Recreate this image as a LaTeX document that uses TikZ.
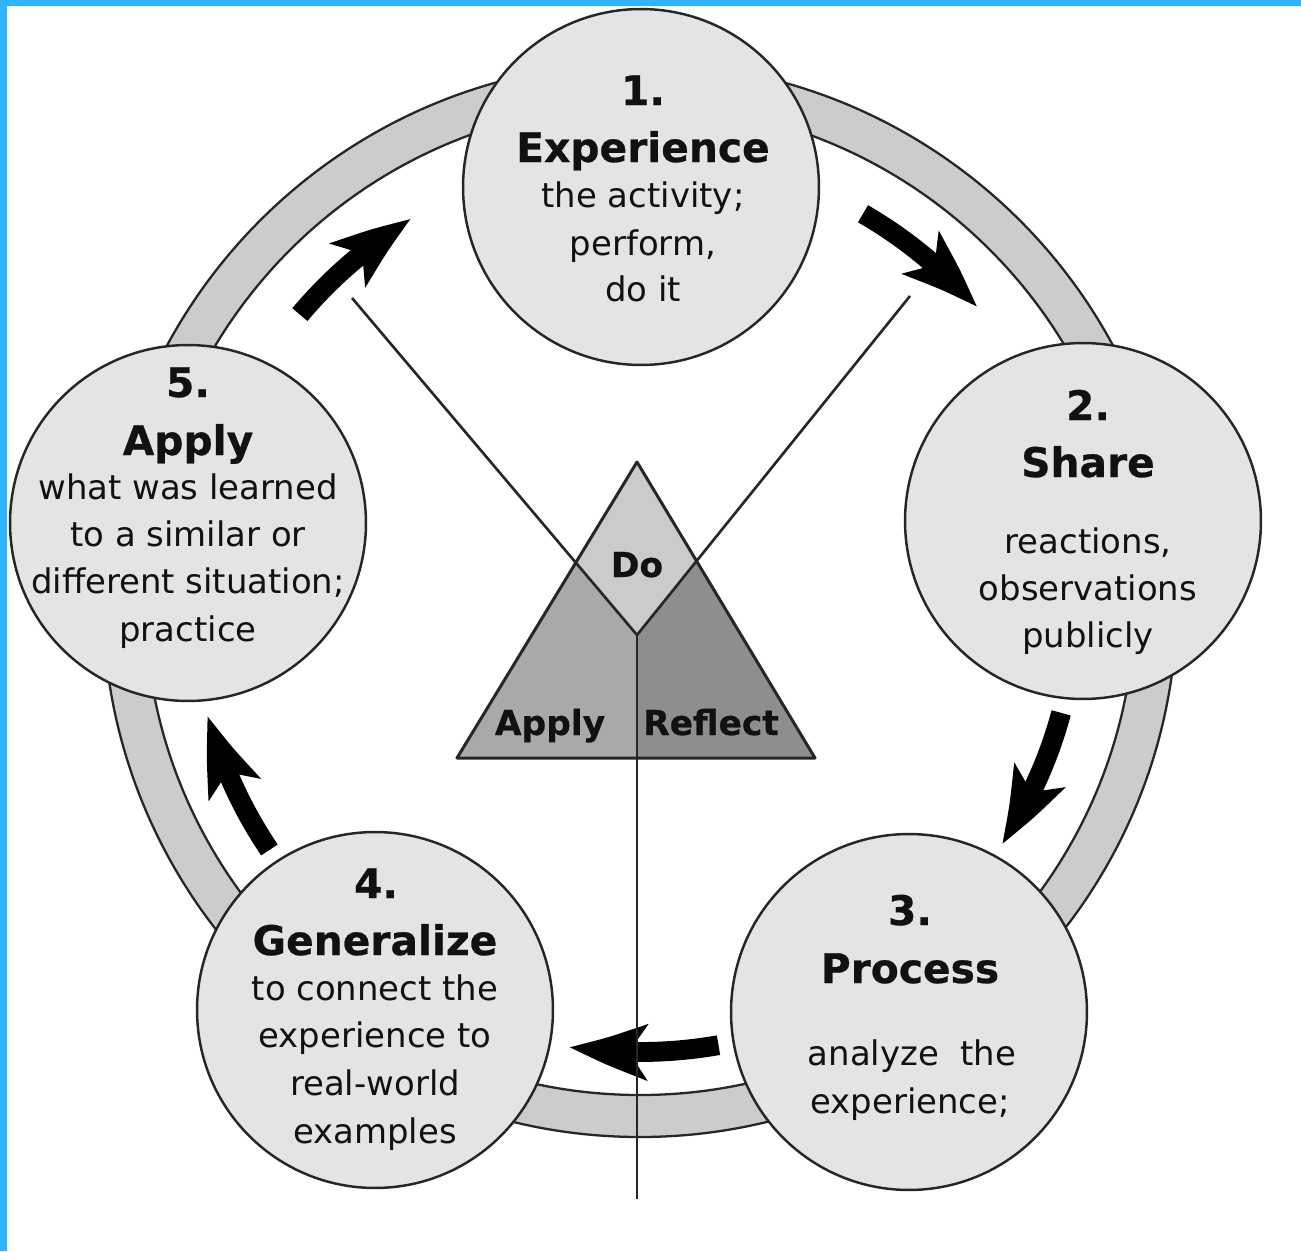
\documentclass[tikz,border=0pt]{standalone}
\usepackage{fontspec}
\setmainfont{DejaVu Sans}[BoldFeatures={FakeBold=0.6}]
\usetikzlibrary{arrows.meta,bending}
\definecolor{bluebar}{HTML}{30B4FF}
\definecolor{ringgray}{HTML}{CCCCCC}
\definecolor{circgray}{HTML}{E4E4E4}
\definecolor{dogray}{HTML}{CBCBCB}
\definecolor{applygray}{HTML}{A9A9A9}
\definecolor{reflgray}{HTML}{8E8E8E}
\definecolor{txt}{HTML}{111111}
\begin{document}
\begin{tikzpicture}[x=0.02cm,y=0.02cm,
  stage/.style={circle, draw=black!85, line width=1.4pt, fill=circgray, minimum size=7.12cm, inner sep=0pt},
  num/.style={font=\fontsize{23.2}{28}\selectfont\bfseries, anchor=base, inner sep=0pt, text=txt},
  body/.style={font=\fontsize{19.3}{24}\selectfont, anchor=base, inner sep=0pt, text=txt},
  trilab/.style={font=\fontsize{19.6}{24}\selectfont\bfseries, anchor=base, inner sep=0pt, text=txt},
  cyc/.style={line width=11.3pt, -{Stealth[length=44pt,width=31pt,inset=10pt,bend]}},
  yline/.style={line width=1.5pt, draw=black!85},
  ringline/.style={line width=1.3pt, draw=black!85}]
\useasboundingbox (0,0) rectangle (1301,-1251);
\fill[white] (0,0) rectangle (1301,-1251);
\fill[bluebar] (0,0) rectangle (1301,-6);
\fill[bluebar] (0,0) rectangle (7,-1251);

% ring
\coordinate (ctr) at (640,-600);
\fill[ringgray, even odd rule] (ctr) circle[radius=537] (ctr) circle[radius=495];
\draw[ringline] (ctr) circle[radius=537];
\draw[ringline] (ctr) circle[radius=495];

% cycle arrows
\draw[cyc] ([shift={(ctr)}]60:446) arc[start angle=60, end angle=41, radius=446];
\draw[cyc] ([shift={(ctr)}]-15:436) arc[start angle=-15, end angle=-34, radius=436];
\draw[cyc] ([shift={(ctr)}]-80:452) arc[start angle=-80, end angle=-99, radius=452];
\draw[cyc] ([shift={(ctr)}]214:447) arc[start angle=214, end angle=195, radius=447];
\draw[cyc] ([shift={(ctr)}]140:444) arc[start angle=140, end angle=121, radius=444];

% central triangle
\coordinate (apex) at (637,-462);
\coordinate (BL) at (457,-758);
\coordinate (BR) at (815,-758);
\coordinate (Bm) at (637,-758);
\coordinate (O) at (637,-635);
\coordinate (Ltop) at (352,-298);
\coordinate (Rtop) at (910,-296);
\coordinate (Vbot) at (637,-1199);
\coordinate (L) at (intersection of O--Ltop and apex--BL);
\coordinate (R) at (intersection of O--Rtop and apex--BR);
\fill[dogray] (apex) -- (R) -- (O) -- (L) -- cycle;
\fill[applygray] (L) -- (O) -- (Bm) -- (BL) -- cycle;
\fill[reflgray] (O) -- (R) -- (BR) -- (Bm) -- cycle;
\draw[line width=1.7pt, line join=round, draw=black!85] (apex) -- (BL) -- (BR) -- cycle;
\draw[yline] (Ltop) -- (O) -- (Rtop);
\draw[yline] (O) -- (Vbot);
\node[trilab] (tdo) at (637,-577) {Do};
\node[trilab] (tap) at (550,-735) {Apply};
\node[trilab] (tre) at (711,-735) {Reflect};

% stage circles
\node[stage] (s1) at (641,-187) {};
\node[stage] (s2) at (1083,-521) {};
\node[stage] (s3) at (909,-1012) {};
\node[stage] (s4) at (375,-1010) {};
\node[stage] (s5) at (188,-523) {};

% texts circle 1
\node[num] (n1) at (643,-105) {1.};
\node[num] (h1) at (643,-162) {Experience};
\node[body] (b1a) at (643,-207) {the activity;};
\node[body] (b1b) at (643,-255) {perform,};
\node[body] (b1c) at (643,-301) {do it};
% circle 2
\node[num] (n2) at (1088,-420) {2.};
\node[num] (h2) at (1088,-477) {Share};
\node[body] (b2a) at (1088,-553) {reactions,};
\node[body] (b2b) at (1088,-600) {observations};
\node[body] (b2c) at (1088,-647) {publicly};
% circle 3
\node[num] (n3) at (910,-925) {3.};
\node[num] (h3) at (910,-983) {Process};
\node[body] (b3a) at (912,-1065) {analyze\ \ the};
\node[body] (b3b) at (910,-1113) {experience;};
% circle 4
\node[num] (n4) at (376,-898) {4.};
\node[num] (h4) at (375,-955) {Generalize};
\node[body] (b4a) at (375,-1000) {to connect the};
\node[body] (b4b) at (375,-1047) {experience to};
\node[body] (b4c) at (375,-1095) {real-world};
\node[body] (b4d) at (375,-1143) {examples};
% circle 5
\node[num] (n5) at (188,-397) {5.};
\node[num] (h5) at (188,-455) {Apply};
\node[body] (b5a) at (188,-499) {what was learned};
\node[body] (b5b) at (188,-546) {to a similar or};
\node[body] (b5c) at (188,-593) {different situation;};
\node[body] (b5d) at (188,-641) {practice};
\end{tikzpicture}
\end{document}
